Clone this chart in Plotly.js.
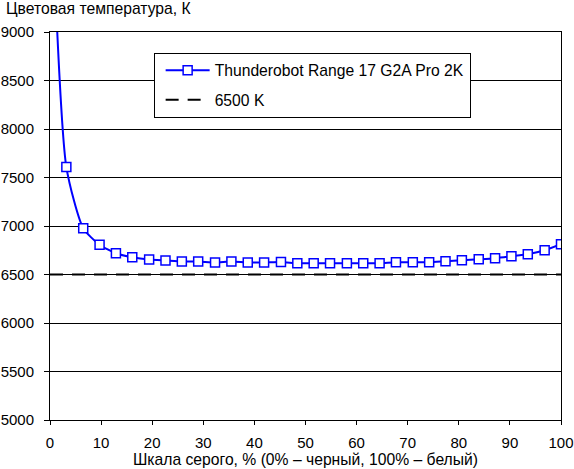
<!DOCTYPE html>
<html>
<head>
<meta charset="utf-8">
<script src="https://cdn.plot.ly/plotly-3.0.1.min.js"></script>
<style>html,body{margin:0;padding:0;background:#fff;}#chart{width:574px;height:469px;}</style>
</head>
<body>
<div id="chart"></div>
<script>
const grayLevels = [0, 3.2, 6.5, 9.7, 12.9, 16.1, 19.4, 22.6, 25.8, 29.0, 32.3, 35.5, 38.7, 41.9, 45.2, 48.4,
  51.6, 54.8, 58.1, 61.3, 64.5, 67.7, 71.0, 74.2, 77.4, 80.6, 83.9, 87.1, 90.3, 93.5, 96.8, 100];
const colorTemp = [10800, 7607, 6977, 6806, 6719, 6678, 6654, 6644, 6634, 6634, 6624, 6634, 6624, 6624, 6628, 6617,
  6617, 6617, 6617, 6617, 6617, 6627, 6627, 6627, 6637, 6647, 6657, 6668, 6688, 6709, 6750, 6812];
const refX = [0, 100];
const refY = [6500, 6500];
const seriesName = "Thunderobot Range 17 G2A Pro 2K";
const refName = "6500 K";
const yTicks = [5000, 5500, 6000, 6500, 7000, 7500, 8000, 8500, 9000];
const xTicks = [0, 10, 20, 30, 40, 50, 60, 70, 80, 90, 100];

const font = {family: "Arial, 'Liberation Sans', sans-serif", size: 15.7, color: "#000"};
const tickFont = {family: "Arial, 'Liberation Sans', sans-serif", size: 15, color: "#000"};

const data = [
  {x: grayLevels, y: colorTemp, name: seriesName, type: "scatter", mode: "lines+markers",
   legendgroup: "a",
   line: {color: "#0000ff", width: 2, shape: "spline", smoothing: 0.6},
   marker: {symbol: "square", size: 9, color: "#ffffff", line: {color: "#0000ff", width: 1.5}}},
  {x: refX, y: refY, name: refName, type: "scatter", mode: "lines", legendgroup: "b",
   line: {color: "#000000", width: 2, dash: "13px,9px"}}
];

const layout = {
  width: 574, height: 469,
  margin: {l: 49.5, r: 12.7, t: 31.7, b: 49},
  paper_bgcolor: "#fff", plot_bgcolor: "#fff",
  font: font,
  title: {text: "Цветовая температура, К", x: 6/574, xanchor: "left", xref: "container",
          y: 1 - 9/469, yanchor: "middle", yref: "container", font: font},
  xaxis: {range: [0, 100], tickvals: xTicks, showgrid: false, zeroline: false,
          showline: true, linecolor: "#000", linewidth: 1, mirror: true,
          ticks: "outside", ticklen: 4, tickcolor: "#000", tickfont: tickFont, ticklabelstandoff: 5,
          ticklabeloverflow: "allow",
          title: {text: "Шкала серого, % (0% – черный, 100% – белый)", font: font, standoff: 1}},
  yaxis: {range: [5000, 9000], tickvals: yTicks, showgrid: true, gridcolor: "#000", gridwidth: 1,
          zeroline: false, showline: true, linecolor: "#000", linewidth: 1, mirror: true,
          ticks: "outside", ticklen: 5, tickcolor: "#000", tickfont: tickFont, ticklabelstandoff: 7,
          ticklabeloverflow: "allow"},
  showlegend: true,
  legend: {x: (153.3 - 49.5) / 511.8, y: 1 - (52.3 - 31.7) / 388.3, xanchor: "left", yanchor: "top",
           bgcolor: "#fff", bordercolor: "#000", borderwidth: 1, font: font,
           traceorder: "grouped", tracegroupgap: 6, itemwidth: 44, indentation: 6}
};

Plotly.newPlot("chart", data, layout, {displayModeBar: false, staticPlot: true});
</script>
</body>
</html>
